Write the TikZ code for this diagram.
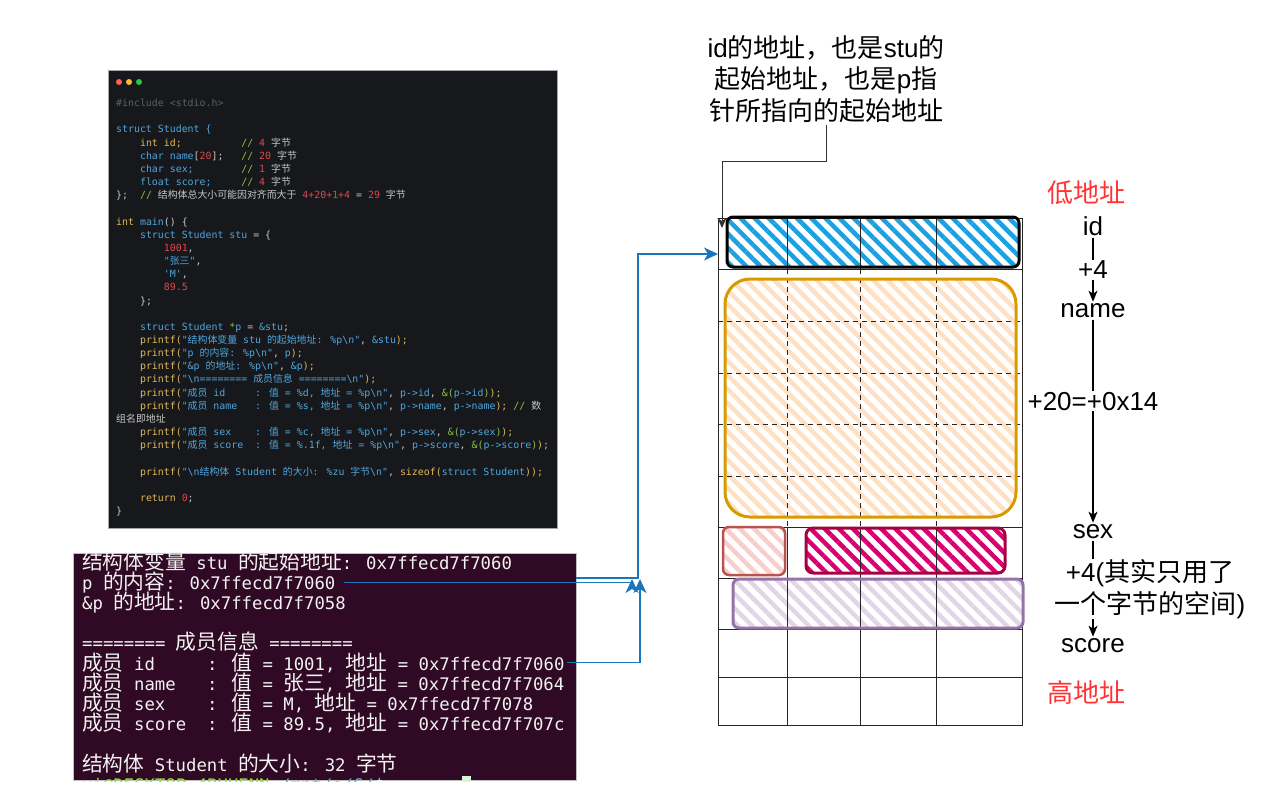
\documentclass[tikz,border=0pt]{standalone}
\usepackage{fontspec}
\usetikzlibrary{arrows.meta,patterns.meta}
\setmainfont{Liberation Sans}
\newfontfamily\labcjk{Noto Sans CJK SC}
\newfontfamily\codemono{DejaVu Sans Mono}[Ligatures=TeXOff]
\newfontfamily\codecjk{Noto Sans CJK SC}
\newfontfamily\termcjk{Noto Sans CJK SC}[Scale=1.2]

% switch to the CJK font and back automatically
\XeTeXinterchartokenstate=1
\chardef\cjkcls=50
\newcount\cc
\cc="4E00 \loop \XeTeXcharclass\cc=\cjkcls \advance\cc by 1 \ifnum\cc<"A000 \repeat
\cc="3000 \loop \XeTeXcharclass\cc=\cjkcls \advance\cc by 1 \ifnum\cc<"3040 \repeat
\cc="FF00 \loop \XeTeXcharclass\cc=\cjkcls \advance\cc by 1 \ifnum\cc<"FFF0 \repeat
\def\curlatin{\rmfamily}
\def\curcjk{\labcjk}
\XeTeXinterchartoks 0 \cjkcls = {\curcjk}
\XeTeXinterchartoks 4095 \cjkcls = {\curcjk}
\XeTeXinterchartoks \cjkcls \cjkcls = {\curcjk}
\XeTeXinterchartoks \cjkcls 0 = {\curlatin}
\XeTeXinterchartoks \cjkcls 4095 = {\curlatin}
\XeTeXinterchartoks 4095 0 = {\curlatin}

\newcommand\codesetup{\fontsize{9.9}{13.16}\selectfont\codemono\def\curlatin{\codemono}\def\curcjk{\codecjk}}
\newcommand\termsetup{\fontsize{17.3}{20.2}\selectfont\codemono\def\curlatin{\codemono}\def\curcjk{\termcjk}}
\newcommand\labsetup{\fontsize{26}{31.5}\selectfont}

\definecolor{codebg}{HTML}{17181B}
\definecolor{ctxt}{HTML}{C5C8C6}
\definecolor{cblu}{HTML}{4FA6DE}
\definecolor{cyel}{HTML}{DDB95A}
\definecolor{cred}{HTML}{E0474C}
\definecolor{cgrn}{HTML}{8DC149}
\definecolor{cdim}{HTML}{5A6068}
\definecolor{dotr}{HTML}{FF5F57}
\definecolor{doty}{HTML}{FEBC2E}
\definecolor{dotg}{HTML}{28C840}
\definecolor{termbg}{HTML}{300A24}
\definecolor{termfg}{HTML}{F2F2F2}
\definecolor{promptg}{HTML}{8AE234}
\definecolor{promptb}{HTML}{729FCF}
\definecolor{cursor}{HTML}{D8F5D8}
\definecolor{linkblue}{HTML}{1A75BB}
\definecolor{addrred}{HTML}{FF3333}
\definecolor{hblue}{HTML}{1BA1E2}
\definecolor{horange}{HTML}{FFE0C2}
\definecolor{dorange}{HTML}{D79B00}
\definecolor{hpink}{HTML}{F8CECC}
\definecolor{dpink}{HTML}{B85450}
\definecolor{hmag}{HTML}{D80073}
\definecolor{dmag}{HTML}{A50040}
\definecolor{hpurple}{HTML}{E1D5E7}
\definecolor{dpurple}{HTML}{9673A6}

\newcommand\Ky[1]{\textcolor{cyel}{#1}}
\newcommand\Kb[1]{\textcolor{cblu}{#1}}
\newcommand\Kr[1]{\textcolor{cred}{#1}}
\newcommand\Kg[1]{\textcolor{cgrn}{#1}}
\newcommand\Kd[1]{\textcolor{cdim}{#1}}
\newcommand\bs{\textbackslash}

\begin{document}
\begin{tikzpicture}[x=1pt, y=-1pt,
    code/.style={anchor=base west, inner sep=0pt, text=ctxt, font=\codesetup},
    term/.style={anchor=base west, inner sep=0pt, text=termfg, font=\termsetup},
    lab/.style={inner sep=2pt, font=\labsetup},
    elab/.style={lab, fill=white, inner sep=1pt, align=center},
    addr/.style={lab, text=addrred},
    chain/.style={draw, line width=1.2pt, -{Stealth[length=11pt,width=9pt,inset=3pt]}},
    note/.style={draw=black!80, line width=1pt, -{Stealth[length=10pt,width=9pt,inset=3pt]}},
    ptr/.style={draw=linkblue, line width=1.1pt, -{Stealth[length=14pt,width=13pt,inset=4pt]}},
    cell/.style={draw=black!85, line width=1pt},
    cellsep/.style={cell, dash pattern=on 5pt off 4pt},
    hatch/.style={pattern={Lines[angle=-45,distance=10pt,line width=4.5pt]}, pattern color=#1},
    field/.style={line width=3pt}
]
\useasboundingbox (0,0) rectangle (1280,807);

% source code panel
\fill[codebg] (108,70) rectangle (557,528);
\draw[black!35, line width=0.6pt] (108,70) rectangle (557,528);
\foreach \c [count=\i] in {dotr,doty,dotg}
    \fill[\c] (109+10*\i,82) circle (3);
\foreach \ln [count=\i] in {
    {\Kd{\#include <stdio.h>}},
    {},
    {\Kb{struct Student \{}},
    {~~~~\Ky{int id;}~~~~~~~~~~\Kg{//} \Kr{4} 字节},
    {~~~~\Kb{char name}[\Kr{20}];~~~\Kg{//} \Kr{20} 字节},
    {~~~~\Kb{char sex;}~~~~~~~~\Kg{//} \Kr{1} 字节},
    {~~~~\Kb{float score;}~~~~~\Kg{//} \Kr{4} 字节},
    {\};~~\Kg{//} 结构体总大小可能因对齐而大于 \Kr{4+20+1+4} = \Kr{29} 字节},
    {},
    {\Ky{int} \Kb{main}() \{},
    {~~~~\Kb{struct Student stu} = \{},
    {~~~~~~~~\Kr{1001},},
    {~~~~~~~~\Kb{"张三"},},
    {~~~~~~~~\Kb{'M'},},
    {~~~~~~~~\Kr{89.5}},
    {~~~~\};},
    {},
    {~~~~\Kb{struct Student} \Kg{*}\Kb{p} = \Kb{\&stu};},
    {~~~~\Ky{printf(}\Kb{"结构体变量 stu 的起始地址: \%p\bs n"}, \Kb{\&stu}\Ky{);}},
    {~~~~\Ky{printf(}\Kb{"p 的内容: \%p\bs n"}, \Kb{p}\Ky{);}},
    {~~~~\Ky{printf(}\Kb{"\&p 的地址: \%p\bs n"}, \Kb{\&p}\Ky{);}},
    {~~~~\Ky{printf(}\Kb{"\bs n======== 成员信息 ========\bs n"}\Ky{);}},
    {~~~~\Ky{printf(}\Kb{"成员 id~~~~~: 值 = \%d, 地址 = \%p\bs n"}, \Kb{p->id}, \Kg{\&(}\Kb{p->id}\Kg{)}\Ky{);}},
    {~~~~\Ky{printf(}\Kb{"成员 name~~~: 值 = \%s, 地址 = \%p\bs n"}, \Kb{p->name}, \Kb{p->name}\Ky{);} \Kg{//} 数},
    {组名即地址},
    {~~~~\Ky{printf(}\Kb{"成员 sex~~~~: 值 = \%c, 地址 = \%p\bs n"}, \Kb{p->sex}, \Kg{\&(}\Kb{p->sex}\Kg{)}\Ky{);}},
    {~~~~\Ky{printf(}\Kb{"成员 score~~: 值 = \%.1f, 地址 = \%p\bs n"}, \Kb{p->score}, \Kg{\&(}\Kb{p->score}\Kg{)}\Ky{);}},
    {},
    {~~~~\Ky{printf(}\Kb{"\bs n结构体 Student 的大小: \%zu 字节\bs n"}, \Ky{sizeof(}\Kb{struct Student}\Ky{));}},
    {},
    {~~~~\Ky{return} \Kr{0};},
    {\}}}
    \node[code] (c\i) at (116,{106.6+13.16*(\i-1)}) {\ln};

% terminal output
\fill[termbg] (73,553) rectangle (576,780);
\draw[black!25, line width=0.8pt] (73,553) rectangle (576,780);
\foreach \ln [count=\i] in {
    {结构体变量 stu 的起始地址: 0x7ffecd7f7060},
    {p 的内容: 0x7ffecd7f7060},
    {\&p 的地址: 0x7ffecd7f7058},
    {},
    {======== 成员信息 ========},
    {成员 id~~~~~: 值 = 1001, 地址 = 0x7ffecd7f7060},
    {成员 name~~~: 值 = 张三, 地址 = 0x7ffecd7f7064},
    {成员 sex~~~~: 值 = M, 地址 = 0x7ffecd7f7078},
    {成员 score~~: 值 = 89.5, 地址 = 0x7ffecd7f707c},
    {},
    {结构体 Student 的大小: 32 字节}}
    \node[term] (t\i) at (82,{569+20.2*(\i-1)}) {\ln};
\begin{scope}
    \clip (73,553) rectangle (576,781);
    \node[term] (t12) at (82,791) {\textcolor{promptg}{xi@DESKTOP-4BUHENN}:\textcolor{promptb}{/mnt/e/C/}\$};
    \fill[cursor] (462,776) rectangle (471,792);
\end{scope}

% members: hatching under the cells, outlines over them
\foreach \ax/\ay/\bx/\by/\hc/\r in {727/217/1019/267/hblue/6, 725/279/1016/517/horange/25,
        723/527/785/575/hpink/6, 806/528/1005/573/hmag/7, 733/579/1023/628/hpurple/6}
    \fill[hatch=\hc, rounded corners=\r pt] (\ax,\ay) rectangle (\bx,\by);

% memory cells
\draw[cell] (718,218) rectangle (1022,725);
\foreach \y in {269,527,578,629,677}
    \draw[cell] (718,\y) -- (1022,\y);
\foreach \y in {321,373,424,476}
    \draw[cellsep] (718,\y) -- (1022,\y);
\foreach \x in {787,860,936} {
    \draw[cell] (\x,218) -- (\x,269);
    \draw[cellsep] (\x,269) -- (\x,527);
    \draw[cell] (\x,527) -- (\x,725);
}

\foreach \ax/\ay/\bx/\by/\dc/\r/\w in {727/217/1019/267/black/6/3, 725/279/1016/517/dorange/25/3,
        723/527/785/575/dpink/6/2.5, 806/528/1005/573/dmag/7/3, 733/579/1023/628/dpurple/6/3}
    \draw[field, draw=\dc, line width=\w pt, rounded corners=\r pt] (\ax,\ay) rectangle (\bx,\by);

% address notes
\node[lab, align=center] (toplab) at (826,79) {id的地址，也是stu的\\起始地址，也是p指\\针所指向的起始地址};
\draw[note] (toplab.south) |- (722,161) -- (722,228);

\node[addr] (lo) at (1086,193) {低地址};
\node[lab] (nid) at (1093,226) {id};
\node[lab] (nname) at (1093,311) {name};
\node[lab] (nsex) at (1093,532) {sex};
\node[lab] (nscore) at (1093,646) {score};
\node[addr] (hi) at (1086,693) {高地址};

\draw[chain] (nid) -- node[elab] {+4} (nname);
\draw[chain] (nname) -- node[elab, pos=0.4] {+20=+0x14} (nsex);
\draw[chain] (nsex) -- node[elab, xshift=57pt] {+4(其实只用了\\一个字节的空间)} (nscore);

% pointers from the output
\coordinate (tout) at (576,578);
\coordinate (cellid) at (718,254);
\draw[ptr] (tout) -- (638,578) |- (cellid);
\draw[ptr, shorten <=8pt] (t2.east) -| (632,579);
\draw[ptr, shorten <=2pt] (t6.east) -| (640,579);
\end{tikzpicture}
\end{document}
